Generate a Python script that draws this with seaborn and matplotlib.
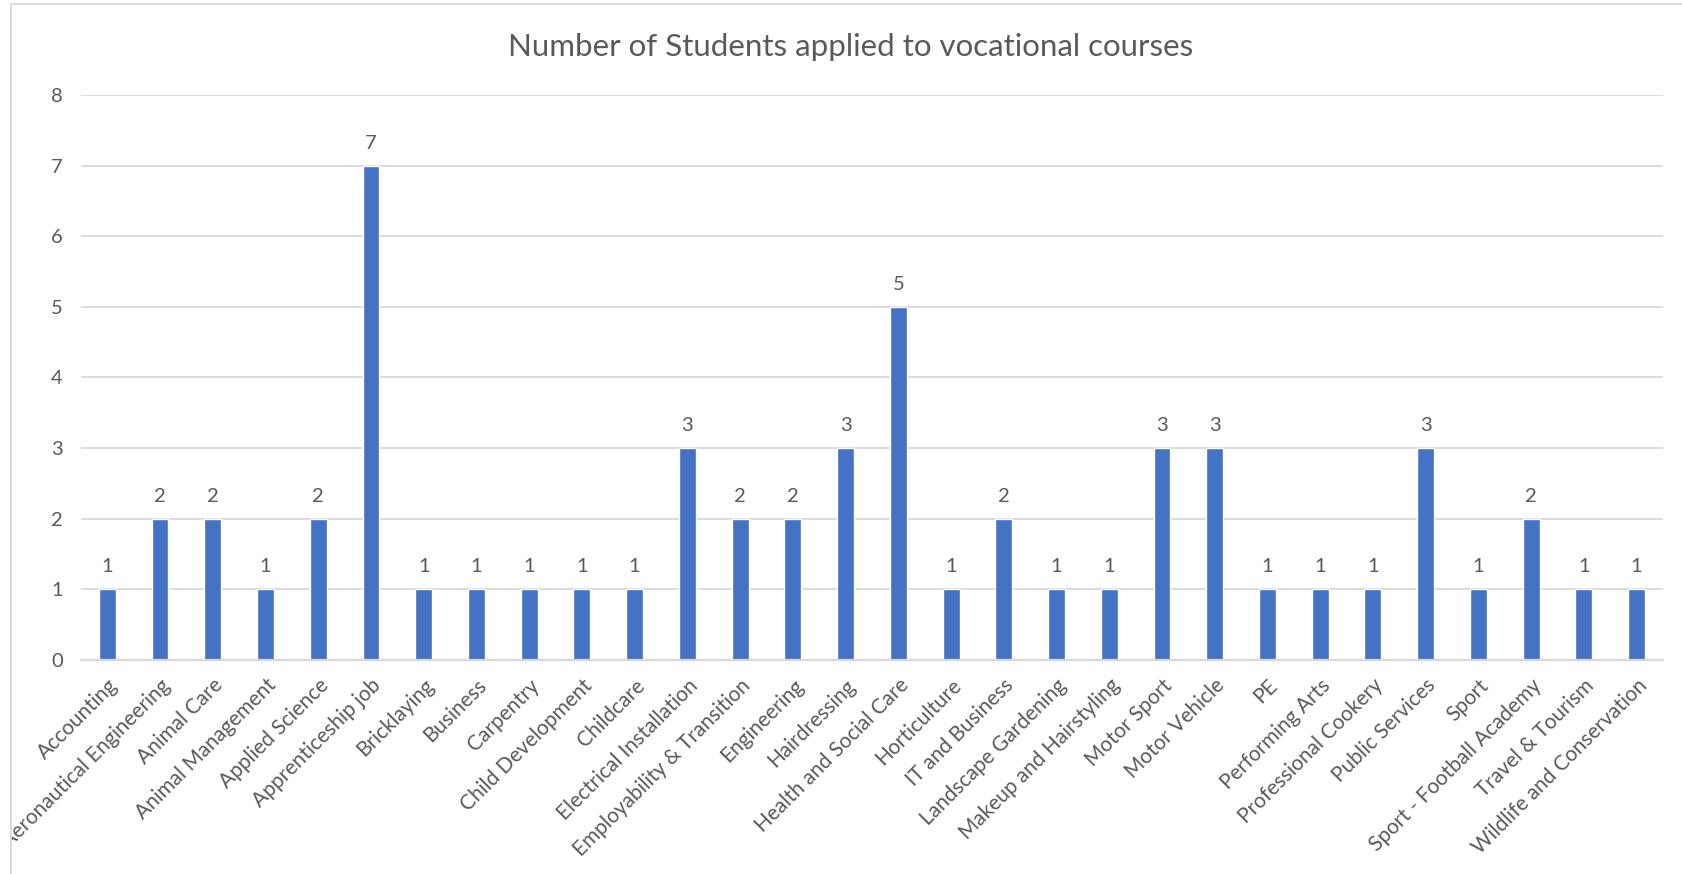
import matplotlib
matplotlib.use("Agg")
import matplotlib.pyplot as plt
import seaborn as sns
from matplotlib.lines import Line2D
from matplotlib.transforms import Bbox

# data
courses = [
    'Accounting', 'Aeronautical Engineering', 'Animal Care', 'Animal Management',
    'Applied Science', 'Apprenticeship job', 'Bricklaying', 'Business', 'Carpentry',
    'Child Development', 'Childcare', 'Electrical Installation',
    'Employability & Transition', 'Engineering', 'Hairdressing',
    'Health and Social Care', 'Horticulture', 'IT and Business',
    'Landscape Gardening', 'Makeup and Hairstyling', 'Motor Sport', 'Motor Vehicle',
    'PE', 'Performing Arts', 'Professional Cookery', 'Public Services', 'Sport',
    'Sport - Football Academy', 'Travel & Tourism', 'Wildlife and Conservation',
]
students = [1, 2, 2, 1, 2, 7, 1, 1, 1, 1, 1, 3, 2, 2, 3, 5, 1, 2, 1, 1, 3, 3,
            1, 1, 1, 3, 1, 2, 1, 1]
y_ticks = [0, 1, 2, 3, 4, 5, 6, 7, 8]
title = 'Number of Students applied to vocational courses'

sns.set_style('white')
plt.rcParams['font.family'] = ['Lato', 'DejaVu Sans']

txt = '#595959'
grid = '#D9D9D9'

fig = plt.figure(figsize=(16.83, 8.74), dpi=100)
ax = fig.add_axes([0.0481, 0.2449, 0.9400, 0.6464])

sns.barplot(x=courses, y=students, color='#4472C4', width=0.32,
            saturation=1, ax=ax)

ax.set_ylim(0, 8)
ax.set_yticks(y_ticks)
ax.set_yticklabels([str(v) for v in y_ticks], fontsize=14.5, color=txt)
ax.yaxis.grid(True, color=grid, linewidth=1.3)
ax.set_axisbelow(True)
for s in ['top', 'right', 'left']:
    ax.spines[s].set_visible(False)
ax.spines['bottom'].set_color(grid)
ax.spines['bottom'].set_linewidth(1.6)
ax.tick_params(axis='both', length=0)
ax.tick_params(axis='y', pad=13)
ax.tick_params(axis='x', pad=11)
ax.set_xlabel('')
ax.set_ylabel('')

ax.set_xticks(range(len(courses)))
ax.set_xticklabels(courses, rotation=45, ha='right', rotation_mode='anchor',
                   fontsize=15, color=txt)

ax.bar_label(ax.containers[0], labels=[str(v) for v in students],
             padding=10, fontsize=14.5, color=txt)

fig.text(0.5056, 0.9465, title, ha='center', va='center', fontsize=22.5, color=txt)

# chart area border (left and top, rest is cropped)
fig.add_artist(Line2D([11 / 1683, 11 / 1683], [0, 1 - 4 / 874],
                      transform=fig.transFigure, color=grid, linewidth=1.3))
fig.add_artist(Line2D([11 / 1683, 1], [1 - 4 / 874, 1 - 4 / 874],
                      transform=fig.transFigure, color=grid, linewidth=1.3))

# clip tick labels at chart border
clip = Bbox.from_extents(11, 0, 1683, 874)
for lab in ax.get_xticklabels():
    lab.set_clip_box(clip)
    lab.set_clip_on(True)

fig.savefig('out.png', dpi=100, facecolor='white')
